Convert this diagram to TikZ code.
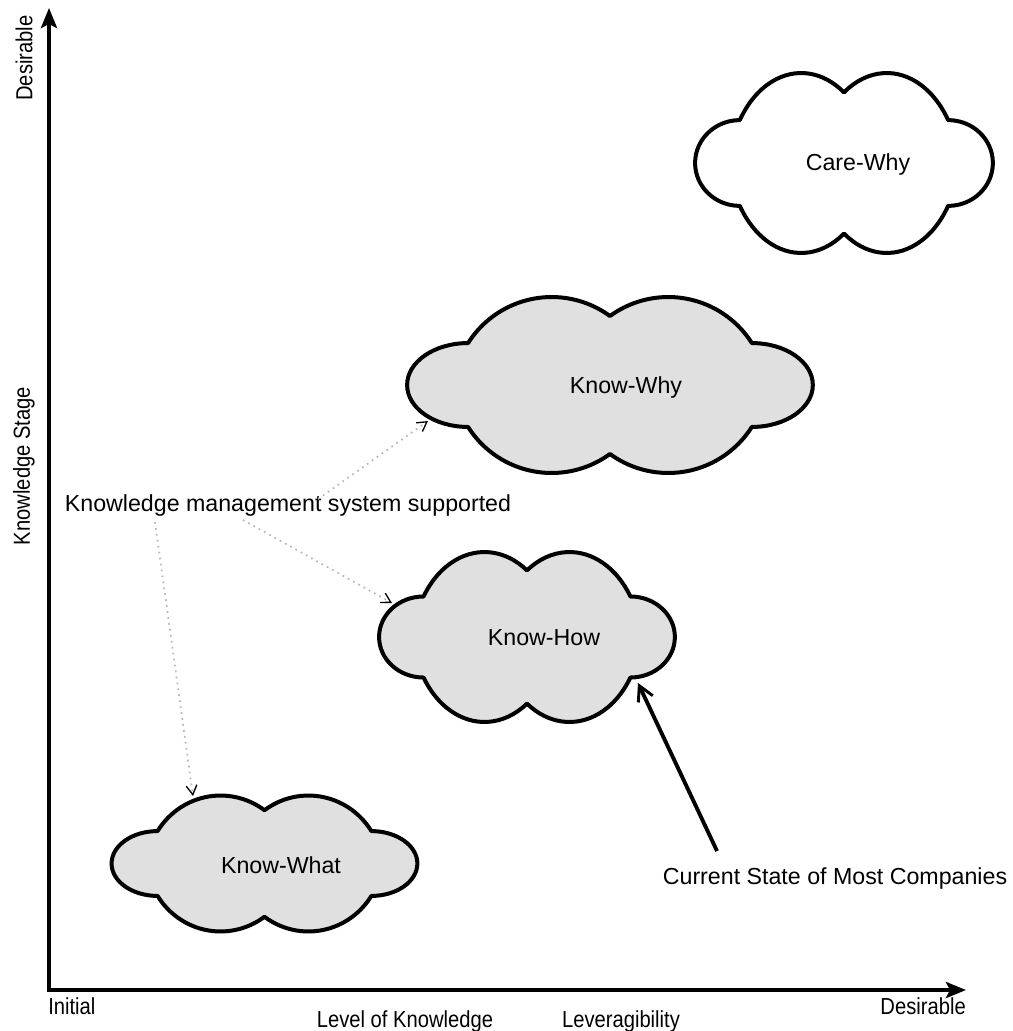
\documentclass[tikz,border=0pt]{standalone}
\usepackage{fontspec}
\setmainfont{Liberation Sans}
\newfontfamily\narrowsans[FakeStretch=0.87]{Liberation Sans}
\usetikzlibrary{arrows.meta}

\definecolor{cloudfill}{gray}{0.88}
\definecolor{dotgray}{gray}{0.72}

\tikzset{
  % a six-lobed cloud; #1 and #2 are its half extents, #3 its fill
  pics/cloud/.style args={#1/#2/#3}{code={
    \filldraw[cloudedge, fill=#3, xscale=#1, yscale=#2] (-0.699,0.4766)
      arc[start angle=147.69, end angle=53.89, x radius=0.4872, y radius=1.1239]
      arc[start angle=126.11, end angle=32.31, x radius=0.4872, y radius=1.1239]
      arc[start angle=90, end angle=-90, x radius=0.3005, y radius=0.4766]
      arc[start angle=-32.31, end angle=-126.11, x radius=0.4872, y radius=1.1239]
      arc[start angle=-53.89, end angle=-147.69, x radius=0.4872, y radius=1.1239]
      arc[start angle=-90, end angle=-270, x radius=0.3005, y radius=0.4766]
      -- cycle;
  }},
  cloudedge/.style={draw=black, line width=3pt, line join=round},
  lbl/.style={inner sep=0pt, font=\fontsize{17.4pt}{20pt}\selectfont},
  axislbl/.style={inner sep=0pt, font=\narrowsans\fontsize{17.4pt}{20pt}\selectfont},
  axisline/.style={line width=3.1pt, line join=miter,
    {Stealth[length=15pt,width=12pt,inset=3pt]}-{Stealth[length=15pt,width=12pt,inset=3pt]}},
  dotlink/.style={draw=dotgray, line width=1.3pt, dash pattern=on 1.3pt off 3.2pt,
    -{Straight Barb[length=7pt,width=8pt,line width=1pt,color=black]}},
  pointer/.style={line width=2.9pt,
    -{Straight Barb[length=11pt,width=12pt,line width=2.2pt]}},
}

\begin{document}
\begin{tikzpicture}[x=0.75pt, y=-0.75pt]
  \useasboundingbox (0,0) rectangle (1013,1031);

  % axes
  \coordinate (ytop) at (49,8);
  \coordinate (origin) at (49,990);
  \coordinate (xend) at (966,990);
  \draw[axisline] (ytop) -- (origin) -- (xend);

  \node[axislbl, rotate=90] (ydes) at (24,58) {Desirable};
  \node[axislbl, rotate=90] (ystage) at (24,466) {Knowledge Stage};
  \node[axislbl, anchor=west] (xinit) at (48,1006) {Initial};
  \node[axislbl, anchor=east] (xdes) at (966,1006) {Desirable};
  \node[axislbl] (xlevel) at (405,1021) {Level of Knowledge};
  \node[axislbl] (xlever) at (621,1021) {Leveragibility};

  % knowledge stages
  \pic at (844,163) {cloud=149/90/white};
  \pic at (610,385) {cloud=203/88/cloudfill};
  \pic at (527,637) {cloud=148/85/cloudfill};
  \pic at (264.5,863.5) {cloud=153/68/cloudfill};

  \node[lbl] (carewhy) at (858,165) {Care-Why};
  \node[lbl] (knowwhy) at (626,387) {Know-Why};
  \node[lbl] (knowhow) at (544,638) {Know-How};
  \node[lbl] (knowwhat) at (281,865) {Know-What};

  % system support
  \node[lbl] (kms) at (288,505) {Knowledge management system supported};
  \coordinate (kms-why) at (318,499);
  \coordinate (kms-how) at (243,520);
  \coordinate (kms-what) at (155,522);
  \coordinate (why-in) at (428,421);
  \coordinate (how-in) at (392,603);
  \coordinate (what-in) at (193,796);
  \draw[dotlink] (kms-why) -- (why-in);
  \draw[dotlink] (kms-how) -- (how-in);
  \draw[dotlink] (kms-what) -- (what-in);

  % current state
  \node[lbl] (current) at (835,878) {Current State of Most Companies};
  \coordinate (current-tail) at (717,851);
  \coordinate (how-out) at (638,683);
  \draw[pointer] (current-tail) -- (how-out);
\end{tikzpicture}
\end{document}
